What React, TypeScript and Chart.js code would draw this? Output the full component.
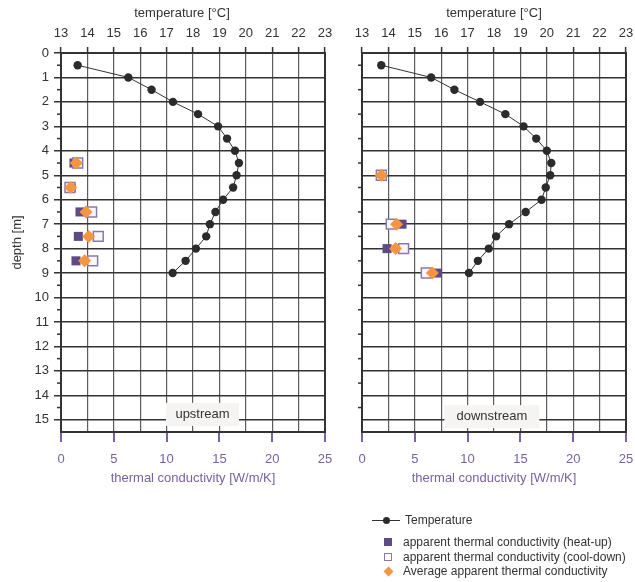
import React, { useEffect, useRef } from 'react';
import { Chart, registerables } from 'chart.js';

Chart.register(...registerables);

const FONT = "'Liberation Sans', Arial, Helvetica, sans-serif";
const DARK = '#333333';
const GRID_V = '#5c5c5c';
const PURPLE = '#7a61a0';
const HEAT = '#5e4a87';
const COOL_BORDER = '#8b79aa';
const COOL_FILL = '#f8f6f8';
const AVG = '#f7943f';

// depth [m] of temperature readings
const tempDepths = [0.5, 1, 1.5, 2, 2.5, 3, 3.5, 4, 4.5, 5, 5.5, 6, 6.5, 7, 7.5, 8, 8.5, 9];
const upstreamTemperature = [13.63, 15.55, 16.43, 17.24, 18.19, 18.95, 19.29, 19.59, 19.74, 19.65, 19.52, 19.14, 18.85, 18.64, 18.5, 18.11, 17.72, 17.23];
const downstreamTemperature = [13.73, 15.62, 16.5, 17.47, 18.43, 19.12, 19.6, 20.0, 20.17, 20.13, 19.96, 19.8, 19.2, 18.57, 18.08, 17.8, 17.39, 17.05];

// conductivity measurements
const upstreamDepths = [4.5, 5.5, 6.5, 7.5, 8.5];
const upstreamHeatUp = [1.23, 0.95, 1.8, 1.64, 1.42];
const upstreamCoolDown = [1.58, 0.85, 2.9, 3.53, 3.0];
const upstreamAverage = [1.45, 0.92, 2.37, 2.62, 2.24];

const downstreamDepths = [5, 7, 8, 9];
const downstreamHeatUp = [1.8, 3.79, 2.37, 7.16];
const downstreamCoolDown = [1.83, 2.77, 3.94, 6.09];
const downstreamAverage = [1.83, 3.28, 3.18, 6.66];

// axes
const temperatureTicks = [13, 14, 15, 16, 17, 18, 19, 20, 21, 22, 23];
const conductivityTicks = [0, 5, 10, 15, 20, 25];
const depthTicks = [0, 1, 2, 3, 4, 5, 6, 7, 8, 9, 10, 11, 12, 13, 14, 15];
const minorDepthTicks = [0.5, 1.5, 2.5, 3.5, 4.5, 5.5, 6.5, 7.5, 8.5, 9.5, 10.5, 11.5, 12.5, 13.5, 14.5];

type PanelProps = {
  left: number;
  width: number;
  height: number;
  axisWidth: number;
  padRight: number;
  showDepthLabels: boolean;
  label: string;
  labelTemp: number;
  labelDepth: number;
  labelWidth: number;
  titleOffset: number;
  temps: number[];
  kDepths: number[];
  heat: number[];
  cool: number[];
  avg: number[];
};

const zeroPad = (s: any) => {
  s.paddingLeft = 0;
  s.paddingRight = 0;
  s.paddingTop = 0;
  s.paddingBottom = 0;
};

const decorPlugin = {
  id: 'panelDecor',
  beforeDatasetsDraw(chart: any, _args: any, opts: any) {
    const { ctx, chartArea } = chart;
    const y = chart.scales.y;
    const x = chart.scales.x;
    ctx.save();
    // minor ticks on depth axis
    ctx.strokeStyle = DARK;
    ctx.lineWidth = 1.5;
    for (const d of minorDepthTicks) {
      const py = y.getPixelForValue(d);
      ctx.beginPath();
      ctx.moveTo(chartArea.left - 4, py);
      ctx.lineTo(chartArea.left + 1, py);
      ctx.stroke();
    }
    // frame
    ctx.lineWidth = 2;
    ctx.strokeStyle = DARK;
    ctx.strokeRect(chartArea.left, chartArea.top, chartArea.right - chartArea.left, chartArea.bottom - chartArea.top);
    // label box
    const cx = x.getPixelForValue(opts.labelTemp);
    const cy = y.getPixelForValue(opts.labelDepth);
    const w = opts.labelWidth;
    const h = 23;
    ctx.fillStyle = '#f5f4f2';
    ctx.fillRect(cx - w / 2, cy - h / 2, w, h);
    ctx.fillStyle = DARK;
    ctx.font = `13px ${FONT}`;
    ctx.textAlign = 'center';
    ctx.textBaseline = 'middle';
    ctx.fillText(opts.label, cx, cy);
    // top title
    ctx.fillText('temperature [°C]', (chartArea.left + chartArea.right) / 2 + opts.titleOffset, 13);
    ctx.restore();
  },
};

function Panel(p: PanelProps) {
  const ref = useRef<HTMLCanvasElement | null>(null);
  useEffect(() => {
    if (!ref.current) return;
    const font = { family: FONT, size: 13 };
    const chart = new Chart(ref.current, {
      type: 'scatter',
      data: {
        datasets: [
          {
            label: 'Average apparent thermal conductivity',
            data: p.kDepths.map((d, i) => ({ x: p.avg[i], y: d })),
            xAxisID: 'x2',
            yAxisID: 'y',
            pointStyle: 'rectRot',
            pointRadius: 6.5,
            backgroundColor: AVG,
            borderColor: AVG,
            borderWidth: 0,
            order: 0,
          },
          {
            label: 'apparent thermal conductivity (cool-down)',
            data: p.kDepths.map((d, i) => ({ x: p.cool[i], y: d })),
            xAxisID: 'x2',
            yAxisID: 'y',
            pointStyle: 'rect',
            pointRadius: 7,
            backgroundColor: COOL_FILL,
            borderColor: COOL_BORDER,
            borderWidth: 1.5,
            order: 1,
          },
          {
            label: 'apparent thermal conductivity (heat-up)',
            data: p.kDepths.map((d, i) => ({ x: p.heat[i], y: d })),
            xAxisID: 'x2',
            yAxisID: 'y',
            pointStyle: 'rect',
            pointRadius: 6.4,
            backgroundColor: HEAT,
            borderColor: HEAT,
            borderWidth: 0,
            order: 2,
          },
          {
            label: 'Temperature',
            data: tempDepths.map((d, i) => ({ x: p.temps[i], y: d })),
            xAxisID: 'x',
            yAxisID: 'y',
            showLine: true,
            borderColor: DARK,
            borderWidth: 1,
            pointStyle: 'circle',
            pointRadius: 4.2,
            backgroundColor: '#2b2b2b',
            pointBorderWidth: 0,
            order: 3,
          },
        ],
      },
      options: {
        animation: false,
        responsive: false,
        maintainAspectRatio: false,
        layout: { autoPadding: false, padding: { left: 0, right: p.padRight, top: 0, bottom: 0 } },
        plugins: {
          legend: { display: false },
          tooltip: { enabled: false },
          panelDecor: {
            label: p.label,
            labelTemp: p.labelTemp,
            labelDepth: p.labelDepth,
            labelWidth: p.labelWidth,
            titleOffset: p.titleOffset,
          },
        } as any,
        scales: {
          x: {
            type: 'linear',
            position: 'top',
            min: 13,
            max: 23,
            afterBuildTicks: (s: any) => {
              s.ticks = temperatureTicks.map((v) => ({ value: v }));
            },
            afterFit: (s: any) => {
              s.height = 53;
              zeroPad(s);
            },
            grid: { color: GRID_V, lineWidth: 1.2, tickColor: DARK, tickLength: 6, tickWidth: 1.5 },
            border: { display: false },
            ticks: { color: DARK, font, padding: 6, maxRotation: 0, autoSkip: false },
          },
          x2: {
            type: 'linear',
            position: 'bottom',
            min: 0,
            max: 25,
            afterBuildTicks: (s: any) => {
              s.ticks = conductivityTicks.map((v) => ({ value: v }));
            },
            afterFit: (s: any) => {
              s.height = 58;
              zeroPad(s);
            },
            grid: { drawOnChartArea: false, color: PURPLE, tickColor: PURPLE, tickLength: 10, lineWidth: 2 },
            border: { display: false },
            ticks: { color: PURPLE, font, padding: 10, maxRotation: 0, autoSkip: false },
            title: {
              display: true,
              text: 'thermal conductivity [W/m/K]',
              color: PURPLE,
              font,
              padding: { top: 2, bottom: 4 },
            },
          },
          y: {
            type: 'linear',
            reverse: true,
            min: 0,
            max: 15.5,
            afterBuildTicks: (s: any) => {
              s.ticks = depthTicks.map((v) => ({ value: v }));
            },
            afterFit: (s: any) => {
              s.width = p.axisWidth;
              zeroPad(s);
            },
            grid: { color: DARK, lineWidth: 1.5, tickLength: 7, drawTicks: p.showDepthLabels },
            border: { display: false },
            ticks: { display: p.showDepthLabels, color: DARK, font, padding: 5, autoSkip: false },
            title: {
              display: p.showDepthLabels,
              text: 'depth [m]',
              color: DARK,
              font,
              padding: { top: 10, bottom: 4 },
            },
          },
        },
      } as any,
      plugins: [decorPlugin],
    });
    return () => chart.destroy();
  }, []);
  return (
    <canvas
      ref={ref}
      width={p.width}
      height={p.height}
      style={{ position: 'absolute', left: p.left, top: 0, width: p.width, height: p.height }}
    />
  );
}

const legendText: React.CSSProperties = {
  position: 'absolute',
  fontFamily: FONT,
  fontSize: 12,
  color: DARK,
  lineHeight: '14px',
  whiteSpace: 'nowrap',
};

function Legend() {
  return (
    <>
      <div style={{ position: 'absolute', left: 372, top: 520, width: 28, height: 1, background: DARK }} />
      <div style={{ position: 'absolute', left: 383, top: 516.5, width: 7, height: 7, borderRadius: '50%', background: '#2b2b2b' }} />
      <div style={{ ...legendText, left: 405, top: 513 }}>Temperature</div>

      <div style={{ position: 'absolute', left: 384, top: 537.5, width: 8, height: 8, background: HEAT }} />
      <div style={{ ...legendText, left: 403, top: 534.5 }}>apparent thermal conductivity (heat-up)</div>

      <div style={{ position: 'absolute', left: 384, top: 552.5, width: 6, height: 6, background: '#fff', border: `1px solid ${COOL_BORDER}` }} />
      <div style={{ ...legendText, left: 403, top: 549.5 }}>apparent thermal conductivity (cool-down)</div>

      <div style={{ position: 'absolute', left: 384.5, top: 567.5, width: 7, height: 7, background: AVG, transform: 'rotate(45deg)' }} />
      <div style={{ ...legendText, left: 403, top: 564 }}>Average apparent thermal conductivity</div>
    </>
  );
}

export default function App() {
  return (
    <div style={{ position: 'absolute', left: 0, top: 0, width: 635, height: 582, background: '#fff' }}>
      <Panel
        left={0}
        width={345}
        height={490}
        axisWidth={61}
        padRight={20}
        showDepthLabels={true}
        label="upstream"
        labelTemp={18.36}
        labelDepth={14.78}
        labelWidth={73}
        titleOffset={-11}
        temps={upstreamTemperature}
        kDepths={upstreamDepths}
        heat={upstreamHeatUp}
        cool={upstreamCoolDown}
        avg={upstreamAverage}
      />
      <Panel
        left={330}
        width={305}
        height={490}
        axisWidth={32}
        padRight={9}
        showDepthLabels={false}
        label="downstream"
        labelTemp={17.92}
        labelDepth={14.87}
        labelWidth={95}
        titleOffset={0}
        temps={downstreamTemperature}
        kDepths={downstreamDepths}
        heat={downstreamHeatUp}
        cool={downstreamCoolDown}
        avg={downstreamAverage}
      />
      <Legend />
    </div>
  );
}
